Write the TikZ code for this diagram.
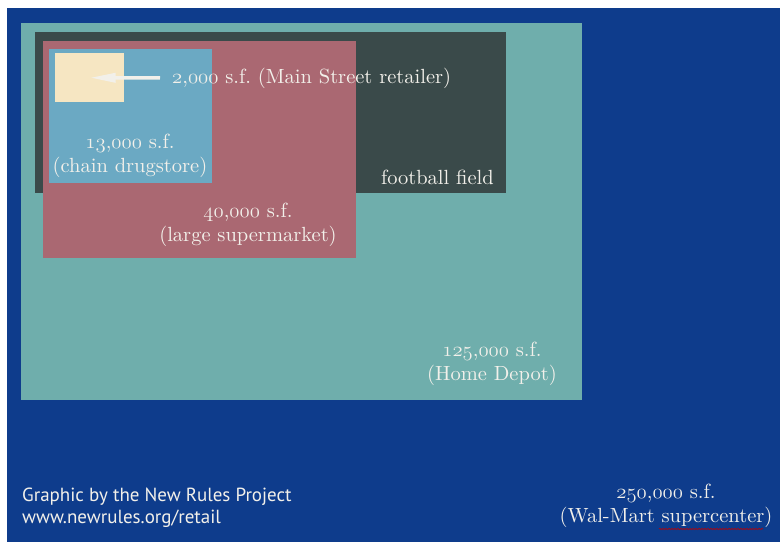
\documentclass[tikz,border=0pt]{standalone}
\usepackage{fontspec}
\newfontfamily\creditfont{PT Sans}
\newfontfamily\lblfont{lmroman10-regular}[Extension=.otf]
\usetikzlibrary{arrows.meta,decorations.pathmorphing}

\definecolor{walblue}{RGB}{14,60,140}
\definecolor{depotteal}{RGB}{111,174,172}
\definecolor{fieldgrey}{RGB}{58,74,74}
\definecolor{marketred}{RGB}{170,104,114}
\definecolor{drugblue}{RGB}{107,169,195}
\definecolor{shopcream}{RGB}{246,230,194}
\definecolor{labelwhite}{RGB}{242,240,234}

% old style figures from the math italic font
\newcommand{\osf}[1]{{\usefont{OML}{cmm}{m}{it}#1}}

\begin{document}
\begin{tikzpicture}[x=1pt,y=-1pt,
    area/.style={rectangle,inner sep=0pt,anchor=north west},
    lbl/.style={text=labelwhite,align=center,inner sep=0pt,
        font=\lblfont\fontsize{20.5}{24.5}\selectfont},
    squiggle/.style={red!75!black,line width=0.6pt,decorate,
        decoration={snake,amplitude=0.7pt,segment length=3pt}}]

\useasboundingbox (0,0) rectangle (780,542);
\fill[white] (0,0) rectangle (780,542);

% Wal-Mart supercenter
\node[area,fill=walblue,minimum width=773pt,minimum height=534pt] (wal) at (7,8) {};

% Home Depot
\node[area,fill=depotteal,minimum width=561pt,minimum height=377pt] (depot) at (21,23) {};

% Football field
\node[area,fill=fieldgrey,minimum width=471pt,minimum height=161pt] (field) at (35,32) {};

% Supermarket
\node[area,fill=marketred,minimum width=313pt,minimum height=217pt] (market) at (43,41) {};

% Drugstore
\node[area,fill=drugblue,minimum width=163pt,minimum height=134pt] (drug) at (49,49) {};

% Main Street shop
\node[area,fill=shopcream,minimum width=69pt,minimum height=49pt] (shop) at (55,53) {};

% Labels
\node[lbl,anchor=west] (shoplbl) at (172,78) {\osf{2},\osf{000} s.f.\ (Main Street retailer)};
\draw[-{Triangle[length=26pt,width=9pt]},line width=3.5pt,labelwhite,shorten <=12pt]
    (shoplbl.west) -- (shop.center);

\node[lbl] (druglbl) at (130,156) {\osf{13},\osf{000} s.f.\\(chain drugstore)};
\node[lbl,anchor=east] (fieldlbl) at (494,177) {football field};
\node[lbl] (marketlbl) at (248,225) {\osf{40},\osf{000} s.f.\\(large supermarket)};
\node[lbl] (depotlbl) at (492,364) {\osf{125},\osf{000} s.f.\\(Home Depot)};
\node[lbl] (wallbl) at (666,506) {\osf{250},\osf{000} s.f.\\(Wal-Mart supercenter)};
\draw[squiggle] (659,529) -- (763,529);

% Credit
\node[lbl,anchor=west,align=left,font=\creditfont\fontsize{19}{22}\selectfont]
    (credit) at (22,508) {Graphic by the New Rules Project\\www.newrules.org/retail};

\end{tikzpicture}
\end{document}
